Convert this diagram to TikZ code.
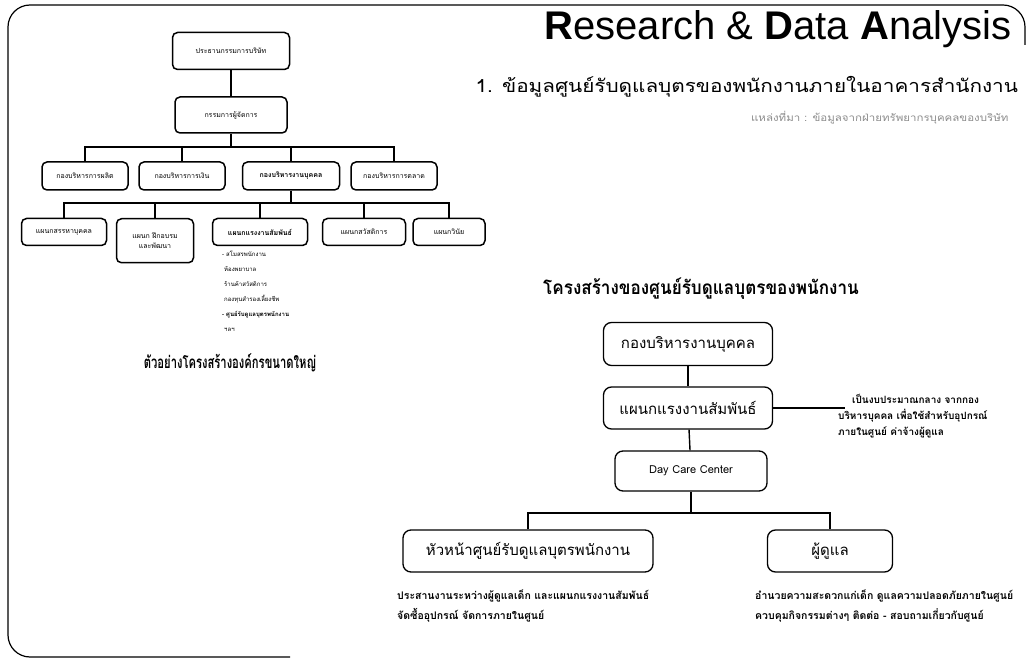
\documentclass[tikz,border=0pt]{standalone}
\usepackage{fontspec}
\setmainfont[Script=Thai]{Loma}
\newfontfamily\titlefont{Liberation Sans}
\newfontfamily\thaicond[Script=Thai,FakeStretch=0.66]{Loma}
\newfontfamily\thaihead[Script=Thai,FakeStretch=0.9]{Loma}
\newfontfamily\thaiwide[Script=Thai,FakeStretch=1.15]{Loma}
\begin{document}
\begin{tikzpicture}[x=1pt,y=-1pt,
				orgbox/.style={draw,rounded corners=5pt,line width=1.5pt,inner sep=1pt,align=center},
				smallbox/.style={orgbox,font=\fontsize{7}{10}\selectfont,minimum height=28pt},
				bigbox/.style={orgbox,rounded corners=8pt,line width=1.3pt,font=\fontsize{15}{17}\selectfont,minimum height=42pt},
				link/.style={line width=1.4pt},
				note/.style={align=left,inner sep=0pt,font=\bfseries\fontsize{10.5}{20}\selectfont}]

			\useasboundingbox (0,0) rectangle (1029,660);
			\draw[line width=1.2pt,rounded corners=22pt] (290,657) -- (8,657) -- (8,5) -- (1025,5) -- (1025,45);

			\node[anchor=base east] (title) at (1015,40) {\titlefont\fontsize{40}{40}\selectfont\textbf{R}esearch \& \textbf{D}ata \textbf{A}nalysis};
			\node[anchor=west] (topic) at (472,87) {\thaiwide\fontsize{18}{20}\selectfont 1. ข้อมูลศูนย์รับดูแลบุตรของพนักงานภายในอาคารสำนักงาน};
			\node[anchor=east,text=black!45] (source) at (1012,118) {\thaiwide\fontsize{10}{11}\selectfont แหล่งที่มา : ข้อมูลจากฝ่ายทรัพยากรบุคคลของบริษัท};

			\node[smallbox,minimum width=117pt,minimum height=37pt] (p0) at (231,51) {ประธานกรรมการบริษัท};
			\node[smallbox,minimum width=112pt,minimum height=36pt] (p1) at (231,115) {กรรมการผู้จัดการ};
			\coordinate (b1) at (231,147);

			\node[smallbox,minimum width=86pt] (q1) at (85,176) {กองบริหารการผลิต};
			\node[smallbox,minimum width=86pt] (q2) at (182,176) {กองบริหารการเงิน};
			\node[smallbox,minimum width=97pt,font=\bfseries\fontsize{7}{10}\selectfont] (q3) at (291,176) {กองบริหารงานบุคคล};
			\node[smallbox,minimum width=86pt] (q4) at (394,176) {กองบริหารการตลาด};

			\draw[link] (p0) -- (p1);
			\draw[link] (p1) -- (b1);
			\draw[link] (q1.north) |- (b1) -| (q4.north);
			\draw[link] (q2.north) -- (q2.north |- b1);
			\draw[link] (q3.north) -- (q3.north |- b1);

			\coordinate (b2) at (291,203);
			\node[smallbox,minimum width=85pt,minimum height=27pt] (r1) at (64,232) {แผนกสรรหาบุคคล};
			\node[smallbox,minimum width=77pt,minimum height=44pt,anchor=north] (r2) at (155,218) {แผนก ฝึกอบรม\\และพัฒนา};
			\node[smallbox,minimum width=95pt,minimum height=27pt,font=\bfseries\fontsize{7}{10}\selectfont] (r3) at (260,232) {แผนกแรงงานสัมพันธ์};
			\node[smallbox,minimum width=83pt,minimum height=27pt] (r4) at (364,232) {แผนกสวัสดิการ};
			\node[smallbox,minimum width=72pt,minimum height=27pt] (r5) at (449,232) {แผนกวินัย};

			\draw[link] (q3) -- (b2);
			\draw[link] (r1.north) |- (b2) -| (r5.north);
			\draw[link] (r2.north) -- (r2.north |- b2);
			\draw[link] (r3.north) -- (r3.north |- b2);
			\draw[link] (r4.north) -- (r4.north |- b2);

			\node[anchor=north west,align=left,inner sep=0pt,font=\fontsize{6}{15}\selectfont] (list) at (222,251) {- สโมสรพนักงาน\\ \ ห้องพยาบาล\\ \ ร้านค้าสวัสดิการ\\ \ กองทุนสำรองเลี้ยงชีพ\\ \textbf{- ศูนย์รับดูแลบุตรพนักงาน}\\ \ ฯลฯ};
			\node (caption1) at (230,363) {\thaicond\bfseries\fontsize{17}{20}\selectfont ตัวอย่างโครงสร้างองค์กรขนาดใหญ่};

			\node (caption2) at (701,289) {\thaihead\bfseries\fontsize{19}{22}\selectfont โครงสร้างของศูนย์รับดูแลบุตรของพนักงาน};

			\node[bigbox,minimum width=169pt,minimum height=43pt] (s0) at (688,344) {กองบริหารงานบุคคล};
			\node[bigbox,minimum width=169pt] (s1) at (688,408) {แผนกแรงงานสัมพันธ์};
			\node[bigbox,minimum width=152pt,minimum height=40pt,font=\fontsize{11}{13}\selectfont] (s2) at (691,471) {Day Care Center};
			\node[bigbox,minimum width=250pt] (s3) at (528,551) {หัวหน้าศูนย์รับดูแลบุตรพนักงาน};
			\node[bigbox,minimum width=125pt] (s4) at (830,551) {ผู้ดูแล};
			\coordinate (b3) at (691,513);
			\coordinate (n0) at (845,408);

			\draw[link] (s0) -- (s1);
			\draw[link] (s1) -- (s2);
			\draw[link] (s1) -- (n0);
			\draw[link] (s2) -- (b3);
			\draw[link] (s3.north) |- (b3) -| (s4.north);

			\node[note,anchor=west,font=\bfseries\fontsize{10}{16}\selectfont] (budget) at (838,416) {\hspace*{14pt}เป็นงบประมาณกลาง จากกอง\\บริหารบุคคล เพื่อใช้สำหรับอุปกรณ์\\ภายในศูนย์ ค่าจ้างผู้ดูแล};
			\node[note,anchor=north west] (duty1) at (397,590) {ประสานงานระหว่างผู้ดูแลเด็ก และแผนกแรงงานสัมพันธ์\\จัดซื้ออุปกรณ์ จัดการภายในศูนย์};
			\node[note,anchor=north west] (duty2) at (755,590) {อำนวยความสะดวกแก่เด็ก ดูแลความปลอดภัยภายในศูนย์\\ควบคุมกิจกรรมต่างๆ ติดต่อ - สอบถามเกี่ยวกับศูนย์};

		\end{tikzpicture}
\end{document}
